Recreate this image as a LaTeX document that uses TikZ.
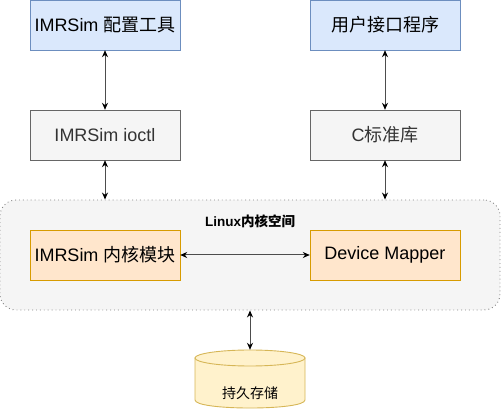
\documentclass[tikz,border=0pt]{standalone}
\usepackage{fontspec}
\setmainfont{Liberation Sans}
\newfontfamily\cjk{Noto Sans CJK SC}
\usetikzlibrary{arrows.meta}
\definecolor{bluef}{HTML}{DAE8FC}
\definecolor{blued}{HTML}{6C8EBF}
\definecolor{grayf}{HTML}{F5F5F5}
\definecolor{grayd}{HTML}{666666}
\definecolor{grayt}{HTML}{333333}
\definecolor{orangef}{HTML}{FFE6CC}
\definecolor{oranged}{HTML}{D79B00}
\definecolor{yellowf}{HTML}{FFF2CC}
\definecolor{yellowd}{HTML}{D6B656}
\definecolor{linec}{HTML}{4D4D4D}
\tikzset{
  box/.style={draw, minimum width=150pt, minimum height=50pt, inner sep=0pt, font=\fontsize{18}{21}\selectfont},
  bluebox/.style={box, fill=bluef, draw=blued},
  graybox/.style={box, fill=grayf, draw=grayd, text=grayt},
  orangebox/.style={box, fill=orangef, draw=oranged},
  conn/.style={draw=linec, line width=1pt, {Stealth[length=7pt,width=6pt,black]}-{Stealth[length=7pt,width=6pt,black]}},
  cyl/.style={draw=yellowd, fill=yellowf, line width=0.9pt}
}
\begin{document}
\begin{tikzpicture}[x=1pt,y=-1pt]
\useasboundingbox (0,0) rectangle (501,411);
\node[draw=grayd!80, fill=grayf, line width=0.9pt, dash pattern=on 0.9pt off 3pt, rounded corners=16pt, minimum width=500pt, minimum height=110pt, inner sep=0pt] (kern) at (250,255) {};
\node[font=\bfseries\fontsize{13.5}{16}\selectfont] (klabel) at (250,221) {Linux{\cjk 内核空间}};
\node[bluebox] (cfg) at (105,25) {IMRSim {\cjk 配置工具}};
\node[bluebox] (ui) at (385,25) {\cjk 用户接口程序};
\node[graybox] (ioctl) at (105,135) {IMRSim ioctl};
\node[graybox] (clib) at (385,135) {C{\cjk 标准库}};
\node[orangebox] (mod) at (105,255) {IMRSim {\cjk 内核模块}};
\node[orangebox] (dm) at (385,255) {Device Mapper};
\node[minimum width=110pt, minimum height=60pt, inner sep=0pt] (store) at (250,380) {};
\draw[cyl] (195,358) -- (195,400) .. controls (195,410.7) and (305,410.7) .. (305,400) -- (305,358) -- cycle;
\draw[cyl] (250,358) ellipse[x radius=55pt, y radius=8pt];
\node[font=\fontsize{14}{16}\selectfont] (storelabel) at (250,393) {\cjk 持久存储};
\draw[conn] (cfg.south) -- (ioctl.north);
\draw[conn] (ui.south) -- (clib.north);
\draw[conn] (ioctl.south) -- (ioctl.south |- kern.north);
\draw[conn] (clib.south) -- (clib.south |- kern.north);
\draw[conn] (mod.east) -- (dm.west);
\draw[conn] (kern.south) -- (store.north);
\end{tikzpicture}
\end{document}
